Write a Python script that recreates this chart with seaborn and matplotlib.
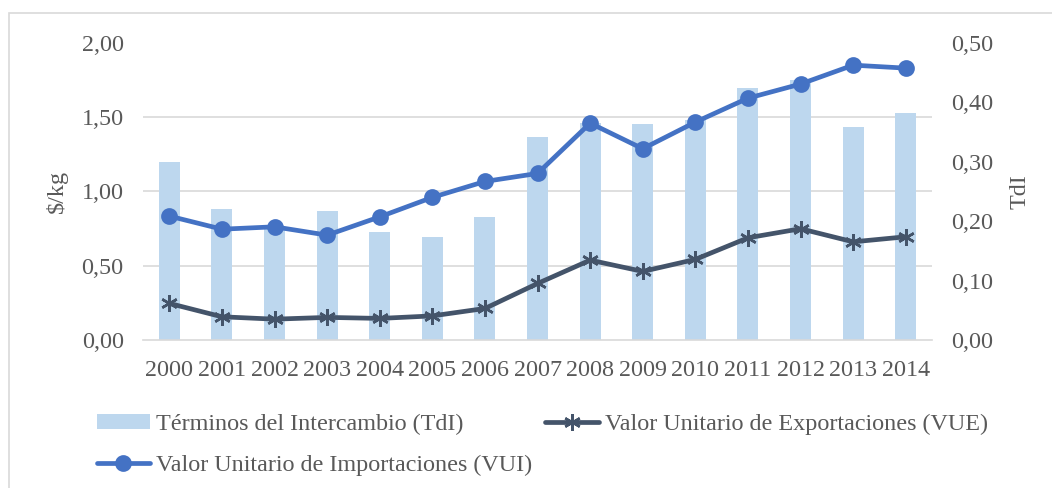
import matplotlib
matplotlib.use("Agg")
import matplotlib.pyplot as plt
from matplotlib.patches import Rectangle
from matplotlib.ticker import FixedLocator, FuncFormatter
import seaborn as sns

# Data
years = [str(y) for y in range(2000, 2015)]
tdi = [0.30, 0.221, 0.19, 0.217, 0.182, 0.173, 0.207, 0.341, 0.365, 0.363,
       0.37, 0.424, 0.438, 0.359, 0.381]
vui = [0.834, 0.746, 0.762, 0.706, 0.829, 0.96, 1.067, 1.121, 1.459, 1.287,
       1.466, 1.627, 1.722, 1.849, 1.829]
vue = [0.247, 0.157, 0.141, 0.153, 0.146, 0.163, 0.213, 0.381, 0.538, 0.462,
       0.543, 0.688, 0.749, 0.661, 0.695]
left_ticks = [0.0, 0.5, 1.0, 1.5, 2.0]
right_ticks = [0.0, 0.1, 0.2, 0.3, 0.4, 0.5]
labels = ["Términos del Intercambio (TdI)",
          "Valor Unitario de Exportaciones (VUE)",
          "Valor Unitario de Importaciones (VUI)"]

sns.set_style("white")
plt.rcParams["font.family"] = ["Liberation Serif", "DejaVu Serif"]
TEXT = "#595959"
GRID = "#D9D9D9"
BAR = "#BDD7EE"
C_VUI = "#4472C4"
C_VUE = "#44546A"
FS = 17.4

fig = plt.figure(figsize=(10.52, 4.88), dpi=100)
fig.patch.set_facecolor("white")

# ax: $/kg lines (left scale, drawn on top); axb: TdI bars (right scale, behind)
ax = fig.add_axes([0.136, 0.303, 0.750, 0.6095])
axb = ax.twinx()
ax.set_zorder(axb.get_zorder() + 1)
ax.patch.set_visible(False)

sns.barplot(x=years, y=tdi, ax=axb, color=BAR, saturation=1, width=0.4,
            errorbar=None, linewidth=0)
axb.set_ylim(0, 0.5)
ax.set_ylim(0, 2.0)

sns.pointplot(x=years, y=vue, ax=ax, color=C_VUE, markers="o", linestyles="-",
              errorbar=None, linewidth=3.4, markersize=12)
vue_line = ax.lines[-1]
vue_line.set_marker((6, 2, 0))
vue_line.set_markeredgewidth(1.8)
vue_line.set_markeredgecolor(C_VUE)
vue_line.set_solid_capstyle("round")

sns.pointplot(x=years, y=vui, ax=ax, color=C_VUI, markers="o", linestyles="-",
              errorbar=None, linewidth=3.4, markersize=9.5)
vui_line = ax.lines[-1]
vui_line.set_solid_capstyle("round")

ax.set_xlim(-0.5, len(years) - 0.5)

# gridlines follow the left scale, drawn behind the bars
ratio = 0.5 / 2.0
axb.yaxis.set_minor_locator(FixedLocator([t * ratio for t in left_ticks]))
axb.grid(False, which="major")
axb.grid(True, which="minor", axis="y", color=GRID, linewidth=1.2)
axb.tick_params(which="minor", length=0)
ax.grid(False)

comma = lambda v, p: f"{v:.2f}".replace(".", ",")
ax.set_yticks(left_ticks)
ax.yaxis.set_major_formatter(FuncFormatter(comma))
axb.set_yticks(right_ticks)
axb.yaxis.set_major_formatter(FuncFormatter(comma))

ax.tick_params(axis="y", length=0, pad=14, labelsize=FS, labelcolor=TEXT)
axb.tick_params(axis="y", length=0, pad=14, labelsize=FS, labelcolor=TEXT)
ax.tick_params(axis="x", length=0, pad=14, labelsize=FS, labelcolor=TEXT)

for a in (ax, axb):
    for s in a.spines.values():
        s.set_visible(False)
ax.spines["bottom"].set_visible(True)
ax.spines["bottom"].set_color(GRID)
ax.spines["bottom"].set_linewidth(1.2)

ax.set_xlabel("")
axb.set_xlabel("")
ax.set_ylabel("$/kg", fontsize=FS, color=TEXT, va="center")
ax.yaxis.set_label_coords(-0.109, 0.5)
axb.set_ylabel("TdI", fontsize=FS, color=TEXT, rotation=90, va="center")
axb.yaxis.set_label_coords(1.112, 0.5)

bar_handle = axb.patches[0]
fig.legend([bar_handle, vui_line, vue_line], [labels[0], labels[2], labels[1]],
           ncol=2, loc="upper left", bbox_to_anchor=(0.092, 0.152),
           frameon=False, fontsize=FS, labelcolor=TEXT, handlelength=2.2,
           handletextpad=0.25, handleheight=0.55, labelspacing=0.83,
           columnspacing=0.55, borderpad=0, borderaxespad=0)

# outer chart-area border
fig.patches.append(Rectangle((8.5 / 1052, -0.1), 1.2, (488 - 13.5) / 488 + 0.1,
                             transform=fig.transFigure, fill=False,
                             edgecolor=GRID, linewidth=1.2))

fig.savefig("out.png", dpi=100)
